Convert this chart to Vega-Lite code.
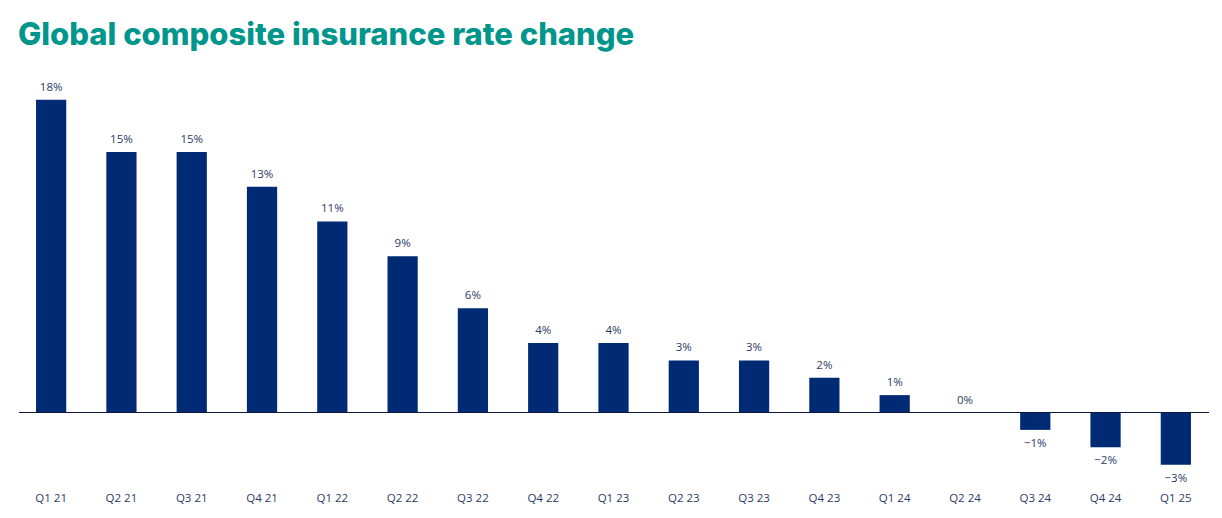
{
  "$schema": "https://vega.github.io/schema/vega-lite/v6.json",
  "autosize": "none",
  "width": 1195,
  "height": 417,
  "padding": {"left": 16, "top": 65, "right": 11, "bottom": 36},
  "background": "white",
  "config": {"view": {"stroke": null}, "font": "Open Sans"},
  "title": {
    "text": "Global composite insurance rate change",
    "anchor": "start",
    "frame": "group",
    "font": "Inter",
    "fontWeight": 800,
    "fontSize": 31,
    "color": "#00968c",
    "offset": 13,
    "dx": 2
  },
  "data": {
    "values": [
      {"quarter": "Q1 21", "rate": 0.18},
      {"quarter": "Q2 21", "rate": 0.15},
      {"quarter": "Q3 21", "rate": 0.15},
      {"quarter": "Q4 21", "rate": 0.13},
      {"quarter": "Q1 22", "rate": 0.11},
      {"quarter": "Q2 22", "rate": 0.09},
      {"quarter": "Q3 22", "rate": 0.06},
      {"quarter": "Q4 22", "rate": 0.04},
      {"quarter": "Q1 23", "rate": 0.04},
      {"quarter": "Q2 23", "rate": 0.03},
      {"quarter": "Q3 23", "rate": 0.03},
      {"quarter": "Q4 23", "rate": 0.02},
      {"quarter": "Q1 24", "rate": 0.01},
      {"quarter": "Q2 24", "rate": 0.0},
      {"quarter": "Q3 24", "rate": -0.01},
      {"quarter": "Q4 24", "rate": -0.02},
      {"quarter": "Q1 25", "rate": -0.03}
    ]
  },
  "encoding": {
    "x": {
      "field": "quarter",
      "type": "ordinal",
      "sort": null,
      "scale": {"paddingInner": 0.57, "paddingOuter": 0.285},
      "axis": {
        "title": null,
        "orient": "bottom",
        "labelAngle": 0,
        "ticks": false,
        "domain": false,
        "labelPadding": 10,
        "labelFontSize": 11.5,
        "labelColor": "#2b3a66",
        "labelFont": "Open Sans"
      }
    }
  },
  "layer": [
    {
      "mark": {"type": "bar", "color": "#002b74"},
      "encoding": {
        "y": {
          "field": "rate",
          "type": "quantitative",
          "scale": {"domain": [-0.04, 0.2], "nice": false},
          "axis": null
        }
      }
    },
    {
      "mark": {"type": "rule", "color": "#0d1a3d", "strokeWidth": 1},
      "encoding": {
        "x": {"value": 3},
        "x2": {"value": 1193},
        "y": {"datum": 0, "type": "quantitative"}
      }
    },
    {
      "transform": [{"filter": "datum.rate >= 0"}],
      "mark": {"type": "text", "baseline": "alphabetic", "dy": -9, "fontSize": 11.5, "color": "#2b3a66", "font": "Open Sans"},
      "encoding": {
        "y": {"field": "rate", "type": "quantitative"},
        "text": {"field": "rate", "type": "quantitative", "format": ".0%"}
      }
    },
    {
      "transform": [{"filter": "datum.rate < 0"}],
      "mark": {"type": "text", "baseline": "top", "dy": 8, "fontSize": 11.5, "color": "#2b3a66", "font": "Open Sans"},
      "encoding": {
        "y": {"field": "rate", "type": "quantitative"},
        "text": {"field": "rate", "type": "quantitative", "format": ".0%"}
      }
    }
  ]
}
